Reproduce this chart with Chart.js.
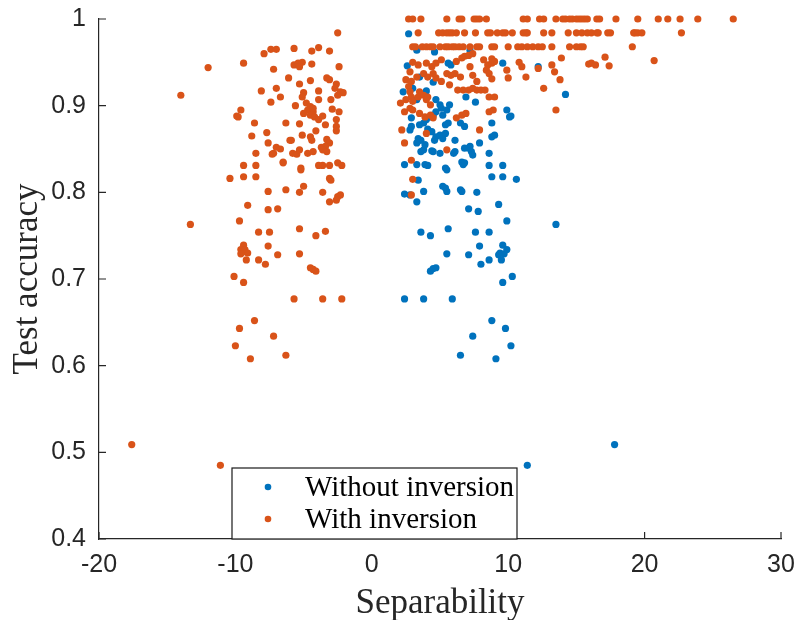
<!DOCTYPE html>
<html>
<head>
<meta charset="utf-8">
<script src="https://cdn.jsdelivr.net/npm/chart.js@4.4.1/dist/chart.umd.min.js"></script>
<style>
  html, body { margin: 0; padding: 0; background: #fff; }
  #wrap { width: 799px; height: 620px; }
</style>
</head>
<body>
<div id="wrap"><canvas id="c" width="799" height="620"></canvas></div>
<script>
// Separability vs. test accuracy, [separability, accuracy] pairs per run
const withoutInversion = [
  [2.7,0.983],[3.3,0.964],[2.6,0.946],[5.6,0.949],[5.8,0.947],[9.6,0.949],[12.2,0.945],[14.2,0.913],[4.6,0.962],[7.2,0.964],[4.5,0.927],
  [3.0,0.920],[4.0,0.917],[2.3,0.916],[3.3,0.907],[3.5,0.933],
  [4.7,0.907],[5.0,0.901],[5.1,0.897],[4.7,0.893],[4.5,0.889],[4.3,0.887],[4.0,0.884],[3.8,0.880],[3.5,0.878],[5.5,0.895],[5.7,0.901],[5.2,0.889],[5.6,0.880],[6.5,0.880],
  [2.9,0.886],[2.9,0.876],[2.8,0.872],[7.6,0.904],[6.9,0.910],[9.9,0.895],[10.1,0.887],[10.2,0.888],[8.8,0.880],[9.0,0.866],
  [4.1,0.873],[4.4,0.870],[5.4,0.878],[5.4,0.868],[6.8,0.876],[8.8,0.864],
  [3.4,0.862],[3.6,0.860],[3.3,0.857],[3.8,0.849],[3.6,0.847],[4.7,0.864],[5.0,0.866],[4.6,0.860],[5.2,0.862],[6.1,0.860],
  [7.2,0.853],[7.3,0.847],[7.1,0.851],[7.4,0.843],[7.9,0.857],[4.5,0.847],[5.0,0.845],[8.6,0.845],
  [3.9,0.855],[4.4,0.848],[6.0,0.845],[6.1,0.847],[6.8,0.851],
  [2.4,0.832],[3.3,0.832],[3.9,0.832],[4.1,0.831],[5.4,0.828],[6.6,0.835],[6.7,0.832],[8.6,0.831],[9.6,0.831],[5.5,0.826],[6.8,0.834],
  [8.8,0.818],[9.6,0.818],[10.6,0.815],[3.4,0.814],[5.2,0.807],[5.5,0.801],[6.5,0.803],[7.7,0.800],[3.8,0.801],[2.4,0.798],[2.8,0.797],[3.3,0.789],
  [5.4,0.805],[6.6,0.801],
  [9.3,0.786],[7.1,0.781],[7.8,0.778],[9.9,0.767],[13.5,0.763],[3.6,0.754],[4.3,0.750],[5.6,0.758],[7.6,0.754],[8.6,0.754],
  [7.9,0.738],[5.5,0.729],[7.1,0.728],[9.6,0.739],[9.9,0.734],[9.4,0.730],[9.7,0.729],[9.5,0.722],[9.3,0.728],[8.0,0.717],[8.6,0.722],
  [4.3,0.709],[4.5,0.712],[4.7,0.713],[10.3,0.703],[9.6,0.696],[2.4,0.677],[3.8,0.677],[5.9,0.677],
  [8.8,0.652],[9.8,0.643],[7.4,0.634],[10.2,0.623],[6.5,0.612],[9.1,0.608],[11.4,0.485],[17.8,0.509]
];

// runs whose separability sign was flipped (left cluster)
const withInversionNeg = [
  [-2.5,0.984],[-12.0,0.944],[-9.4,0.949],[-7.9,0.960],[-7.4,0.965],[-7.0,0.965],[-5.7,0.966],[-4.4,0.963],[-3.9,0.967],[-3.1,0.963],
  [-5.7,0.947],[-5.4,0.949],[-5.1,0.950],[-5.3,0.945],[-4.4,0.948],[-2.4,0.945],[-7.2,0.942],[-6.1,0.932],[-5.3,0.925],[-4.5,0.929],
  [-3.3,0.932],[-3.1,0.930],[-2.6,0.925],[-2.7,0.920],[-2.3,0.916],[-2.1,0.915],[-2.5,0.912],[-14.0,0.912],[-8.1,0.917],[-7.0,0.920],
  [-6.7,0.910],[-7.4,0.904],[-5.0,0.915],[-5.1,0.910],[-3.9,0.917],[-3.9,0.907],[-3.0,0.907],[-4.8,0.903],[-4.5,0.899],[-4.7,0.895],
  [-4.3,0.893],[-4.5,0.889],[-5.0,0.891],[-4.2,0.887],[-3.9,0.884],[-4.3,0.897],[-5.6,0.900],[-2.9,0.896],[-2.4,0.893],[-2.6,0.884],
  [-2.6,0.876],[-2.6,0.871],[-3.6,0.888],[-3.4,0.878],[-9.6,0.895],[-9.9,0.888],[-9.8,0.887],[-8.6,0.880],[-6.3,0.880],[-5.3,0.879],
  [-7.7,0.869],[-8.8,0.865],[-5.1,0.866],[-4.5,0.864],[-4.4,0.860],[-4.1,0.871],[-6.0,0.860],[-5.9,0.860],[-3.3,0.861],[-3.1,0.857],
  [-3.4,0.853],[-3.7,0.852],[-3.6,0.849],[-3.3,0.847],[-7.6,0.857],[-7.0,0.852],[-6.7,0.850],[-7.2,0.845],[-7.3,0.844],[-8.5,0.845],
  [-5.8,0.845],[-5.5,0.844],[-5.3,0.849],[-4.7,0.845],[-4.3,0.847],[-6.5,0.835],[-6.5,0.834],[-9.4,0.831],[-8.5,0.831],[-5.2,0.828],
  [-5.2,0.826],[-3.9,0.831],[-3.6,0.831],[-3.1,0.831],[-2.5,0.834],[-2.2,0.831],[-10.4,0.816],[-9.4,0.818],[-8.5,0.818],[-3.1,0.816],
  [-3.0,0.814],[-7.6,0.801],[-6.3,0.803],[-5.0,0.807],[-5.3,0.800],[-3.6,0.800],[-2.5,0.795],[-2.3,0.797],[-3.1,0.789],[-9.1,0.785],
  [-7.6,0.780],[-6.9,0.781],[-2.6,0.791],[-13.3,0.763],[-9.7,0.767],[-8.3,0.754],[-7.5,0.754],[-5.3,0.758],[-4.1,0.750],[-3.4,0.755],
  [-9.4,0.739],[-9.6,0.734],[-9.5,0.731],[-9.3,0.734],[-9.1,0.730],[-9.2,0.722],[-9.6,0.729],[-7.6,0.738],[-6.9,0.728],[-8.3,0.722],
  [-7.8,0.717],[-5.3,0.729],[-4.5,0.713],[-4.3,0.711],[-4.1,0.709],[-10.1,0.703],[-9.4,0.696],[-5.7,0.677],[-3.6,0.677],[-2.2,0.677],
  [-8.6,0.652],[-9.7,0.643],[-7.2,0.634],[-10.0,0.623],[-6.3,0.612],[-8.9,0.608],[-17.6,0.509],[-11.1,0.485]
];

// runs that stayed on the positive side
const withInversionPos = [
  [2.7,1],[3.0,1],[3.6,1],[5.5,1],[6.4,1],[6.6,1],[7.5,1],[7.7,1],[7.9,1],[8.4,1],[11.1,1],[11.4,1],[12.3,1],[12.6,1],[13.5,1],[14.0,1],
  [14.2,1],[14.5,1],[14.7,1],[15.0,1],[15.2,1],[15.4,1],[15.6,1],[15.8,1],[16.5,1],[16.7,1],[17.9,1],[19.5,1],[21.0,1],[21.7,1],[22.6,1],[23.9,1],[26.5,1],
  [3.4,0.984],[4.9,0.984],[5.2,0.984],[5.5,0.984],[5.7,0.984],[5.9,0.984],[6.2,0.984],[6.8,0.984],[7.6,0.984],[8.5,0.984],[8.7,0.984],[9.2,0.984],
  [9.6,0.984],[9.8,0.984],[10.3,0.984],[11.1,0.984],[11.3,0.984],[11.4,0.984],[12.6,0.984],[13.2,0.984],[14.4,0.984],[15.0,0.984],[15.4,0.984],
  [15.8,0.984],[16.1,0.984],[16.5,0.984],[16.6,0.984],[17.3,0.984],[17.5,0.984],[19.2,0.984],[19.3,0.984],[19.5,0.984],[19.8,0.984],[22.7,0.984],
  [3.0,0.968],[3.2,0.968],[3.7,0.968],[4.0,0.968],[4.3,0.968],[4.5,0.968],[5.0,0.968],[5.4,0.968],[5.6,0.968],[5.9,0.968],[6.1,0.968],[6.4,0.968],
  [6.7,0.968],[7.2,0.968],[7.7,0.968],[7.9,0.968],[8.8,0.968],[9.0,0.968],[10.0,0.968],[10.7,0.968],[11.0,0.968],[11.4,0.968],[11.8,0.968],
  [12.2,0.968],[12.5,0.968],[13.2,0.968],[14.5,0.968],[15.0,0.968],[15.3,0.968],[15.5,0.968],[19.1,0.968],
  [3.0,0.950],[3.4,0.947],[4.0,0.949],[4.4,0.945],[4.7,0.949],[5.1,0.953],[6.2,0.951],[6.6,0.955],[6.8,0.957],[7.1,0.958],[7.4,0.960],
  [8.2,0.953],[8.5,0.947],[8.8,0.949],[9.0,0.951],[8.8,0.954],[10.8,0.950],[11.0,0.945],[12.2,0.943],[13.2,0.947],[13.4,0.939],[13.9,0.955],
  [15.9,0.948],[16.1,0.949],[16.4,0.947],[17.1,0.956],[17.4,0.946],[20.7,0.952],
  [2.8,0.939],[2.5,0.930],[2.9,0.928],[3.3,0.933],[3.8,0.937],[4.1,0.933],[4.5,0.937],[4.7,0.932],[5.1,0.928],[5.5,0.937],[5.8,0.935],
  [6.1,0.937],[6.5,0.933],[7.2,0.945],[7.4,0.935],[7.7,0.928],[8.4,0.941],[8.6,0.937],[9.9,0.941],[10.0,0.932],[11.3,0.933],[13.8,0.930],
  [8.8,0.931],[12.6,0.920],
  [5.7,0.924],[6.3,0.918],[6.7,0.918],[7.1,0.918],[7.7,0.918],[8.3,0.918],[8.6,0.910],[9.0,0.910],[7.4,0.920],[8.0,0.918],
  [2.7,0.922],[2.8,0.916],[2.9,0.910],[2.5,0.907],[3.0,0.905],[3.4,0.910],[3.5,0.916],[3.8,0.912],[4.0,0.907],[4.1,0.910],[4.3,0.901],
  [2.1,0.903],[2.8,0.897],[8.9,0.895],[8.6,0.893],
  [2.4,0.893],[3.0,0.895],[3.5,0.891],[3.9,0.887],[4.3,0.889],[4.5,0.886],[6.2,0.886],[6.6,0.889],[6.9,0.891],
  [2.2,0.872],[2.4,0.857],[7.9,0.872],[4.0,0.868],[5.5,0.849],[2.9,0.837],[3.0,0.815],[2.9,0.797],[13.5,0.895]
];

const seriesLabels = ['Without inversion', 'With inversion'];
const xTickValues = [-20, -10, 0, 10, 20, 30];
const yTickValues = [0.4, 0.5, 0.6, 0.7, 0.8, 0.9, 1];

const BLUE = '#0072BD';
const ORANGE = '#D95319';
const INK = '#262626';
const TICK_FONT = { family: '"Liberation Sans", Arial, sans-serif', size: 25 };
const SERIF = '"Liberation Serif", "Times New Roman", serif';

const toPoints = rows => rows.map(([x, y]) => ({ x, y }));
const plainNumber = v => String(Number(v.toFixed(1)));

// inward tick marks plus the boxed legend in the lower-left of the axes
const axesDecor = {
  id: 'axesDecor',
  afterDatasetsDraw(chart) {
    const { ctx, chartArea: a, scales } = chart;
    ctx.save();
    ctx.strokeStyle = INK;
    ctx.lineWidth = 1.2;
    ctx.beginPath();
    xTickValues.forEach(v => {
      const px = scales.x.getPixelForValue(v);
      ctx.moveTo(px, a.bottom);
      ctx.lineTo(px, a.bottom - 7);
    });
    yTickValues.forEach(v => {
      const py = scales.y.getPixelForValue(v);
      ctx.moveTo(a.left, py);
      ctx.lineTo(a.left + 7, py);
    });
    ctx.stroke();

    const bx = a.left + 133, bw = 285, bh = 71, by = a.bottom - bh;
    ctx.fillStyle = '#fff';
    ctx.fillRect(bx, by, bw, bh);
    ctx.strokeStyle = '#1a1a1a';
    ctx.lineWidth = 1.2;
    ctx.strokeRect(bx, by, bw, bh);

    const rows = [[seriesLabels[0], BLUE, by + 19], [seriesLabels[1], ORANGE, by + 51]];
    ctx.font = '29px ' + SERIF;
    ctx.textBaseline = 'middle';
    ctx.textAlign = 'left';
    rows.forEach(([label, color, yy]) => {
      ctx.fillStyle = color;
      ctx.beginPath();
      ctx.arc(bx + 36, yy, 3.3, 0, Math.PI * 2);
      ctx.fill();
      ctx.fillStyle = '#000';
      ctx.fillText(label, bx + 73, yy + 1);
    });
    ctx.restore();
  }
};

new Chart(document.getElementById('c'), {
  type: 'scatter',
  data: {
    datasets: [
      {
        label: seriesLabels[0],
        data: toPoints(withoutInversion),
        backgroundColor: BLUE,
        pointRadius: 3.6,
        pointHoverRadius: 3.6,
        pointBorderWidth: 0,
        clip: false,
        order: 2
      },
      {
        label: seriesLabels[1],
        data: toPoints(withInversionNeg.concat(withInversionPos)),
        backgroundColor: ORANGE,
        pointRadius: 3.6,
        pointHoverRadius: 3.6,
        pointBorderWidth: 0,
        clip: false,
        order: 1
      }
    ]
  },
  options: {
    responsive: false,
    animation: false,
    devicePixelRatio: 1,
    layout: { padding: { top: 19, right: 18, bottom: 0, left: 0 } },
    plugins: { legend: { display: false }, tooltip: { enabled: false } },
    events: [],
    scales: {
      x: {
        type: 'linear',
        min: -20,
        max: 30,
        afterBuildTicks: s => { s.ticks = xTickValues.map(v => ({ value: v })); },
        grid: { display: false, drawTicks: false },
        border: { display: true, color: INK, width: 1.2 },
        ticks: { color: INK, font: TICK_FONT, padding: 11, maxRotation: 0, autoSkip: false, callback: plainNumber },
        title: { display: true, text: 'Separability', color: INK, font: { family: SERIF, size: 35, lineHeight: 0.9 }, padding: { top: 0, bottom: 0 } },
        afterFit: s => { s.height = 81; s.paddingLeft = 0; s.paddingRight = 0; }
      },
      y: {
        type: 'linear',
        min: 0.4,
        max: 1,
        afterBuildTicks: s => { s.ticks = yTickValues.map(v => ({ value: v })); },
        grid: { display: false, drawTicks: false },
        border: { display: true, color: INK, width: 1.2 },
        ticks: { color: INK, font: TICK_FONT, padding: 13, autoSkip: false, callback: plainNumber },
        title: { display: true, text: 'Test accuracy', color: INK, font: { family: SERIF, size: 35, lineHeight: 0.9 }, padding: { top: 12, bottom: 0 } },
        afterFit: s => { s.width = 99; s.paddingTop = 0; s.paddingBottom = 0; }
      }
    }
  },
  plugins: [axesDecor]
});
</script>
</body>
</html>
